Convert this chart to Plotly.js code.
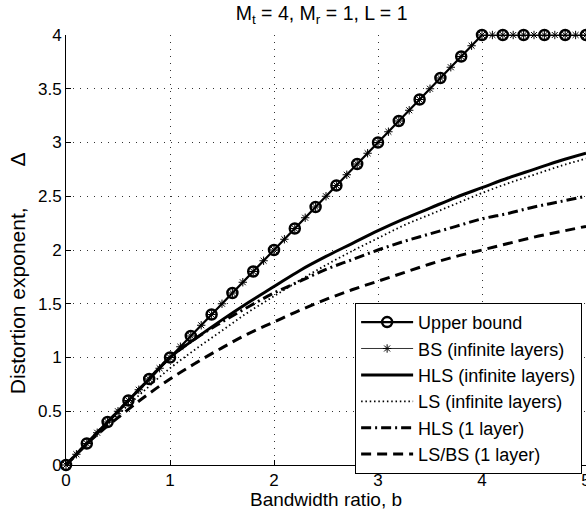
<!DOCTYPE html>
<html>
<head>
<meta charset="utf-8">
<script src="https://cdn.plot.ly/plotly-3.0.1.min.js"></script>
<style>html,body{margin:0;padding:0;background:#fff;}#chart{width:586px;height:510px;}</style>
</head>
<body>
<div id="chart"></div>
<script>
// Upper bound (circles every 0.2)
const ubX = [0,0.2,0.4,0.6,0.8,1,1.2,1.4,1.6,1.8,2,2.2,2.4,2.6,2.8,3,3.2,3.4,3.6,3.8,4,4.2,4.4,4.6,4.8,5];
const ubY = [0,0.2,0.4,0.6,0.8,1,1.2,1.4,1.6,1.8,2,2.2,2.4,2.6,2.8,3,3.2,3.4,3.6,3.8,4,4,4,4,4,4];
// BS (infinite layers), stars every 0.1
const bsX = [0,0.1,0.2,0.3,0.4,0.5,0.6,0.7,0.8,0.9,1,1.1,1.2,1.3,1.4,1.5,1.6,1.7,1.8,1.9,2,2.1,2.2,2.3,2.4,2.5,2.6,2.7,2.8,2.9,3,3.1,3.2,3.3,3.4,3.5,3.6,3.7,3.8,3.9,4,4.1,4.2,4.3,4.4,4.5,4.6,4.7,4.8,4.9,5];
const bsY = [0,0.1,0.2,0.3,0.4,0.5,0.6,0.7,0.8,0.9,1,1.1,1.2,1.3,1.4,1.5,1.6,1.7,1.8,1.9,2,2.1,2.2,2.3,2.4,2.5,2.6,2.7,2.8,2.9,3,3.1,3.2,3.3,3.4,3.5,3.6,3.7,3.8,3.9,4,4,4,4,4,4,4,4,4,4,4];
// Curves
const bX = [0,0.25,0.5,0.75,1,1.25,1.5,1.75,2,2.25,2.5,2.75,3,3.25,3.5,3.75,4,4.25,4.5,4.75,5];
const hlsInf = [0,0.25,0.5,0.75,1,1.18,1.35,1.51,1.66,1.81,1.94,2.06,2.18,2.29,2.39,2.49,2.58,2.67,2.75,2.83,2.90];
const lsInf = [0,0.24,0.47,0.69,0.90,1.08,1.25,1.42,1.57,1.72,1.86,1.99,2.11,2.23,2.33,2.43,2.53,2.62,2.70,2.78,2.85];
const hls1 = [0,0.25,0.5,0.75,1,1.18,1.33,1.47,1.6,1.71,1.82,1.91,2.0,2.08,2.15,2.22,2.29,2.34,2.4,2.45,2.5];
const lsbs1 = [0,0.24,0.44,0.63,0.8,0.95,1.09,1.22,1.33,1.44,1.54,1.63,1.71,1.79,1.87,1.94,2.0,2.06,2.12,2.17,2.22];
const names = ['Upper bound','BS (infinite layers)','HLS (infinite layers)','LS (infinite layers)','HLS (1 layer)','LS/BS (1 layer)'];

const FONT = 'Liberation Sans, Arial, Helvetica, sans-serif';
const NB = '\u00A0';
const traces = [
  {x: ubX, y: ubY, name: names[0], mode: 'lines+markers', cliponaxis: false,
   line: {color: '#000', width: 2.2},
   marker: {symbol: 'circle-open', size: 10, color: '#000', line: {width: 2.5, color: '#000'}}},
  {x: bsX, y: bsY, name: names[1], mode: 'lines+markers', cliponaxis: false,
   line: {color: '#000', width: 0.8},
   marker: {symbol: 'asterisk-open', size: 7, color: '#000', line: {width: 1, color: '#000'}}},
  {x: bX, y: hlsInf, name: names[2], mode: 'lines', line: {color: '#000', width: 3, shape: 'spline'}},
  {x: bX, y: lsInf, name: names[3], mode: 'lines', line: {color: '#000', width: 1.8, dash: '1.5px,2.8px', shape: 'spline'}},
  {x: bX, y: hls1, name: names[4], mode: 'lines', line: {color: '#000', width: 3, dash: '10px,4px,2px,4px', shape: 'spline'}},
  {x: bX, y: lsbs1, name: names[5], mode: 'lines', line: {color: '#000', width: 3, dash: '10px,6px', shape: 'spline'}}
];

const layout = {
  width: 586, height: 510,
  margin: {l: 66, r: 0, t: 35, b: 45},
  paper_bgcolor: '#fff', plot_bgcolor: '#fff',
  font: {family: FONT, color: '#000', size: 17},
  title: {text: 'M<sub>t</sub> = 4, M<sub>r</sub> = 1, L = 1', x: 0.4915, xref: 'paper', xanchor: 'center',
          y: 0.988, yanchor: 'top', font: {family: FONT, size: 19.5, color: '#000'}},
  xaxis: {range: [0, 5], dtick: 1, tick0: 0, ticks: 'inside', ticklen: 5, tickcolor: '#000',
          ticklabeloverflow: 'allow',
          showline: true, linecolor: '#000', linewidth: 1, zeroline: false,
          showgrid: true, gridcolor: '#333', gridwidth: 1, griddash: '1px,6px',
          tickfont: {family: FONT, size: 17, color: '#000'},
          title: {text: 'Bandwidth ratio, b', font: {family: FONT, size: 19, color: '#000'}, standoff: 13}},
  yaxis: {range: [0, 4], dtick: 0.5, tick0: 0, ticks: 'inside', ticklen: 5, tickcolor: '#000',
          showline: true, linecolor: '#000', linewidth: 1, zeroline: false,
          showgrid: true, gridcolor: '#333', gridwidth: 1, griddash: '1px,6px',
          tickfont: {family: FONT, size: 17, color: '#000'},
          title: {text: 'Distortion exponent,' + NB.repeat(7) + 'Δ' + NB.repeat(8) + '\u200B',
                  font: {family: FONT, size: 21, color: '#000'}, standoff: 6}},
  legend: {x: 0.556, xanchor: 'left', y: 0.377, yanchor: 'top', bgcolor: '#fff',
           bordercolor: '#000', borderwidth: 1, font: {family: FONT, size: 18, color: '#000'},
           tracegroupgap: 0, itemwidth: 52},
  showlegend: true
};

Plotly.newPlot('chart', traces, layout, {displayModeBar: false, staticPlot: true});
</script>
</body>
</html>
